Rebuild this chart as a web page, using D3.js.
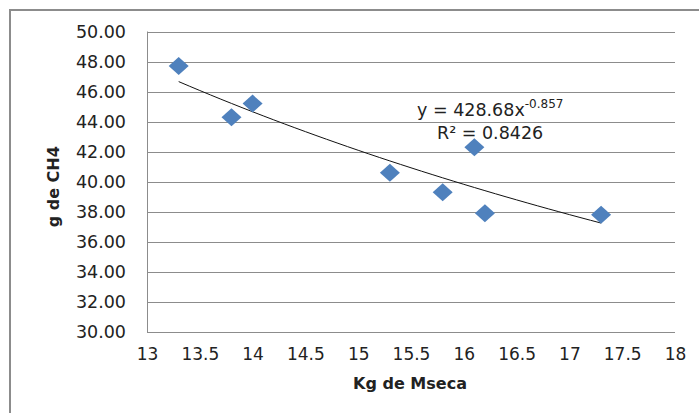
<!DOCTYPE html>
<html>
<head>
<meta charset="utf-8">
<script src="https://cdn.jsdelivr.net/npm/d3@7"></script>
<style>
  html, body { margin: 0; padding: 0; background: #fff; }
  svg { display: block; }
  text { font-family: "DejaVu Sans", sans-serif; fill: #222; }
</style>
</head>
<body>
<script>
// Dry matter intake (kg) vs methane (g)
const xValues = [13.3, 13.8, 14.0, 15.3, 15.8, 16.1, 16.2, 17.3];
const yValues = [47.7, 44.3, 45.2, 40.6, 39.3, 42.3, 37.9, 37.8];
const xTicks = [13, 13.5, 14, 14.5, 15, 15.5, 16, 16.5, 17, 17.5, 18];
const yTicks = [30, 32, 34, 36, 38, 40, 42, 44, 46, 48, 50];
// Power trend line y = a * x^b
const trendA = 428.68;
const trendB = -0.857;
const rSquared = 0.8426;
const xTitle = "Kg de Mseca";
const yTitle = "g de CH4";

const W = 699, H = 413;
const plot = { left: 147, right: 675, top: 31.5, bottom: 332 };

const svg = d3.select("body").append("svg").attr("width", W).attr("height", H);

// Chart frame (runs past the right and bottom edges)
svg.append("rect")
  .attr("x", 10).attr("y", 10).attr("width", W + 20).attr("height", H + 20)
  .attr("fill", "#fff").attr("stroke", "#8c8c8c").attr("stroke-width", 2);

const x = d3.scaleLinear().domain([13, 18]).range([plot.left, plot.right]);
const y = d3.scaleLinear().domain([30, 50]).range([plot.bottom, plot.top]);

// Horizontal gridlines
svg.append("g").selectAll("line").data(yTicks).join("line")
  .attr("x1", plot.left).attr("x2", plot.right)
  .attr("y1", d => Math.round(y(d)) + 0.5).attr("y2", d => Math.round(y(d)) + 0.5)
  .attr("stroke", "#8c8c8c").attr("stroke-width", 1);

// Vertical axis line
svg.append("line")
  .attr("x1", plot.left + 0.5).attr("x2", plot.left + 0.5)
  .attr("y1", plot.top).attr("y2", plot.bottom)
  .attr("stroke", "#8c8c8c").attr("stroke-width", 1);

// Y axis labels
const yAxis = d3.axisLeft(y).tickValues(yTicks).tickFormat(d3.format(".2f")).tickSize(0).tickPadding(21);
const gy = svg.append("g").attr("transform", `translate(${plot.left},0)`).call(yAxis);
gy.select(".domain").remove();
gy.selectAll("text").attr("font-size", 17.5).attr("font-family", "DejaVu Sans, sans-serif").attr("fill", "#222");

// X axis labels
const xAxis = d3.axisBottom(x).tickValues(xTicks).tickFormat(d => String(d)).tickSize(0).tickPadding(16);
const gx = svg.append("g").attr("transform", `translate(0,${plot.bottom})`).call(xAxis);
gx.select(".domain").remove();
gx.selectAll("text").attr("font-size", 17).attr("font-family", "DejaVu Sans, sans-serif").attr("fill", "#222");

// Axis titles
svg.append("text")
  .attr("x", (plot.left + plot.right) / 2 - 1).attr("y", 389)
  .attr("text-anchor", "middle").attr("font-size", 16).attr("font-weight", "bold")
  .attr("fill", "#111")
  .text(xTitle);
svg.append("text")
  .attr("transform", `translate(59,${(plot.top + plot.bottom) / 2 + 5}) rotate(-90)`)
  .attr("text-anchor", "middle").attr("font-size", 16).attr("font-weight", "bold")
  .attr("fill", "#111")
  .text(yTitle);

// Trend line over the data range
const xMin = d3.min(xValues), xMax = d3.max(xValues);
const trendPts = d3.range(0, 41).map(i => {
  const xv = xMin + (xMax - xMin) * i / 40;
  return [xv, trendA * Math.pow(xv, trendB)];
});
svg.append("path")
  .attr("d", d3.line().x(d => x(d[0])).y(d => y(d[1]))(trendPts))
  .attr("fill", "none").attr("stroke", "#111").attr("stroke-width", 1);

// Diamond markers
const pts = xValues.map((v, i) => [v, yValues[i]]);
svg.append("g").selectAll("path").data(pts).join("path")
  .attr("d", d => {
    const cx = x(d[0]), cy = y(d[1]), hw = 10, hh = 9;
    return `M${cx},${cy - hh}L${cx + hw},${cy}L${cx},${cy + hh}L${cx - hw},${cy}Z`;
  })
  .attr("fill", "#4f81bd");

// Trend equation
const eq = svg.append("text").attr("x", 417).attr("y", 116).attr("font-size", 17.5);
eq.append("tspan").text(`y = ${trendA}x`);
eq.append("tspan").attr("dy", -8).attr("font-size", 12).text(String(trendB));
svg.append("text").attr("x", 437).attr("y", 139).attr("font-size", 17.5)
  .text(`R² = ${rSquared}`);
</script>
</body>
</html>
